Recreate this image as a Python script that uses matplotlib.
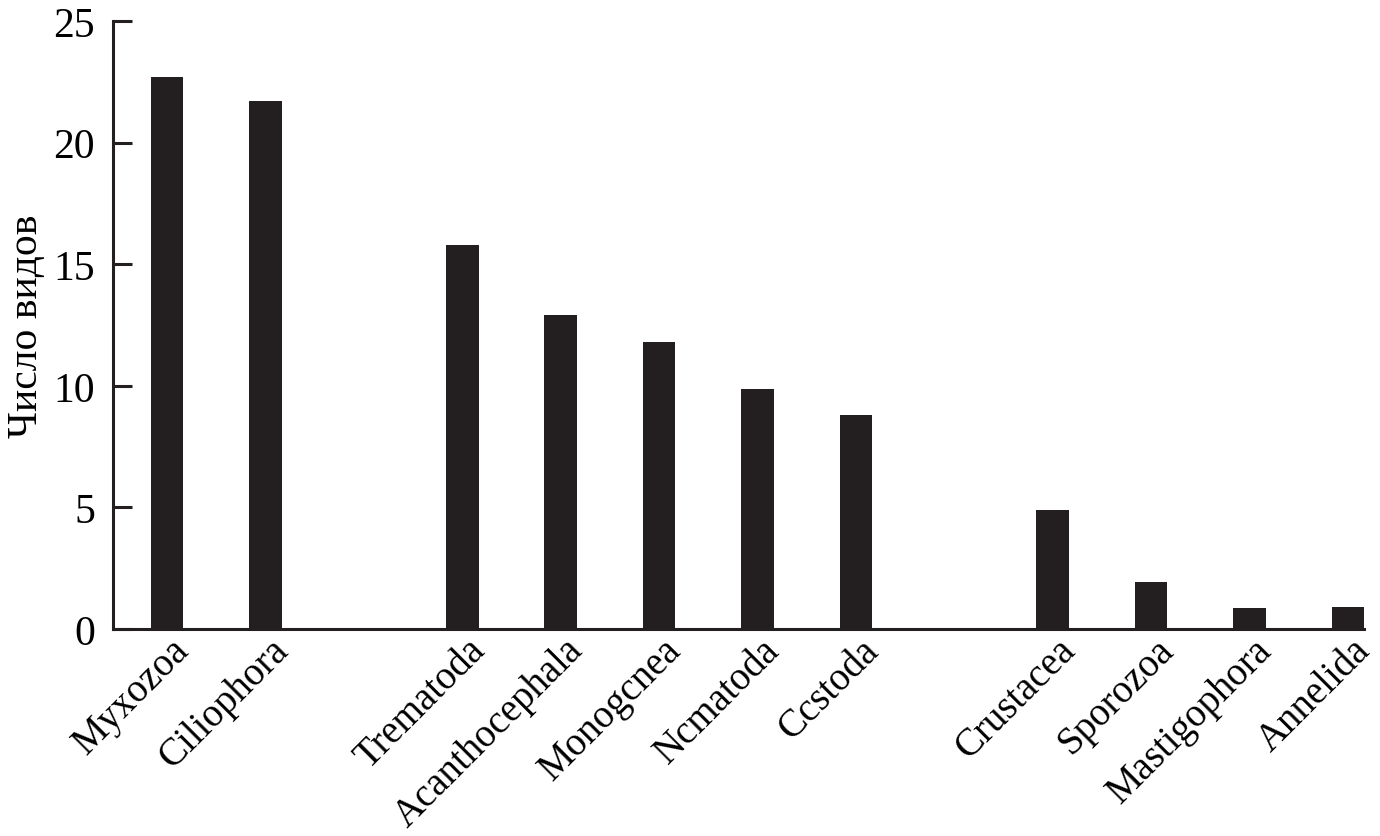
import numpy as np
import matplotlib.pyplot as plt
import matplotlib.transforms as mtransforms

plt.rcParams['font.family'] = ['Liberation Serif', 'DejaVu Serif']

# data
taxa = ['Myxozoa', 'Ciliophora', 'Trematoda', 'Acanthocephala', 'Monogcnea',
        'Ncmatoda', 'Ccstoda', 'Crustacea', 'Sporozoa', 'Mastigophora', 'Annelida']
positions = [0, 1, 3, 4, 5, 6, 7, 9, 10, 11, 12]  # gaps between groups
species = [22.7, 21.7, 15.8, 12.9, 11.8, 9.85, 8.8, 4.9, 1.95, 0.85, 0.9]

bar_color = '#231f20'

fig = plt.figure(figsize=(13.8, 8.37), dpi=100)
ax = fig.add_axes([0.0819, 0.2473, 0.9065, 0.7264])

ax.bar(positions, species, width=0.33, color=bar_color)

ax.set_xlim(-0.55, 12.165)
ax.set_ylim(0, 25)
ax.set_yticks([0, 5, 10, 15, 20, 25])

ax.spines['top'].set_visible(False)
ax.spines['right'].set_visible(False)
for s in ('left', 'bottom'):
    ax.spines[s].set_linewidth(2.2)
    ax.spines[s].set_color(bar_color)

ax.tick_params(axis='y', direction='in', length=14, width=2.2, color=bar_color,
               labelsize=30, pad=13)
ax.tick_params(axis='x', length=0, labelsize=28, pad=11)

ax.set_xticks(positions)
ax.set_xticklabels(taxa, rotation=45, ha='right', va='center', rotation_mode='anchor')
shift = mtransforms.ScaledTranslation(0.17, 0, fig.dpi_scale_trans)
for lbl in ax.get_xticklabels():
    lbl.set_transform(lbl.get_transform() + shift)

ax.set_ylabel('Число видов', fontsize=30, labelpad=5)

fig.savefig('out.png', dpi=100)
